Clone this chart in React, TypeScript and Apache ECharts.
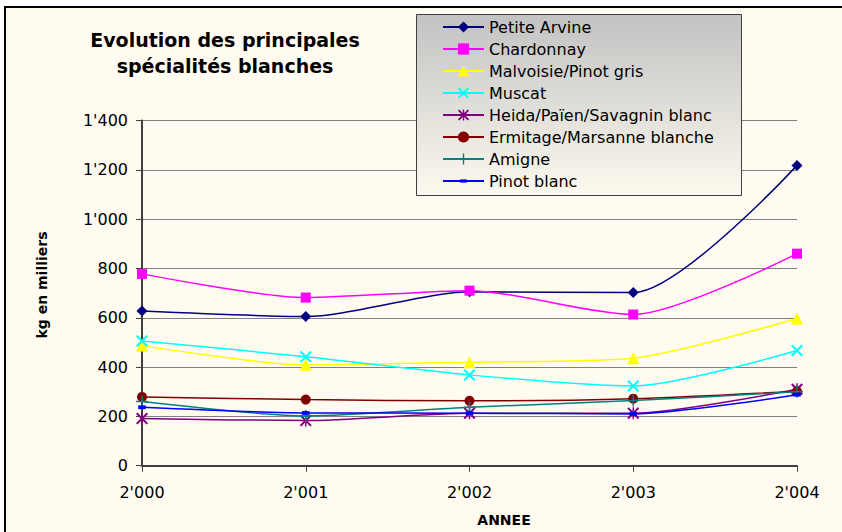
import React, { useEffect, useRef } from "react";
import * as echarts from "echarts";

const years = ["2'000", "2'001", "2'002", "2'003", "2'004"];
const petiteArvine = [627, 605, 705, 702, 1218];
const chardonnay = [778, 682, 710, 613, 860];
const malvoisie = [487, 409, 420, 436, 597];
const muscat = [506, 442, 368, 323, 467];
const heida = [191, 183, 213, 213, 310];
const ermitage = [279, 268, 263, 272, 302];
const amigne = [260, 202, 237, 264, 300];
const pinotBlanc = [237, 214, 213, 210, 288];
const seriesNames = [
  "Petite Arvine",
  "Chardonnay",
  "Malvoisie/Pinot gris",
  "Muscat",
  "Heida/Païen/Savagnin blanc",
  "Ermitage/Marsanne blanche",
  "Amigne",
  "Pinot blanc",
];
const yTicks = [0, 200, 400, 600, 800, 1000, 1200, 1400];

const X_PATH = "path://M0,1.2L1.2,0L5,3.8L8.8,0L10,1.2L6.2,5L10,8.8L8.8,10L5,6.2L1.2,10L0,8.8L3.8,5Z";
const STAR_PATH =
  "path://M0,1.2L1.2,0L5,3.8L8.8,0L10,1.2L6.2,5L10,8.8L8.8,10L5,6.2L1.2,10L0,8.8L3.8,5ZM4.4,0H5.6V10H4.4Z";
const PLUS_PATH = "path://M4.4,0H5.6V4.4H10V5.6H5.6V10H4.4V5.6H0V4.4H4.4Z";
const DASH_PATH = "path://M0,0M12,12M2.5,4.25H9.5V7.75H2.5Z";

const FONT = "DejaVu Sans";

function fmt(v: number): string {
  if (v >= 1000) {
    const s = String(v);
    return s.slice(0, s.length - 3) + "'" + s.slice(s.length - 3);
  }
  return String(v);
}

export default function App() {
  const ref = useRef<HTMLDivElement>(null);
  useEffect(() => {
    if (!ref.current) return;
    const chart = echarts.init(ref.current, undefined, { renderer: "svg" });
    const values = [petiteArvine, chardonnay, malvoisie, muscat, heida, ermitage, amigne, pinotBlanc];
    const colors = ["#000080", "#ff00ff", "#ffff00", "#00ffff", "#800080", "#800000", "#008080", "#0000ff"];
    const symbols = ["diamond", "rect", "triangle", X_PATH, STAR_PATH, "circle", PLUS_PATH, DASH_PATH];
    const sizes: any[] = [11, 10, 12, 12, 12, 10, 12, 13];
    const series = values.map((d, i) => ({
      type: "line",
      name: seriesNames[i],
      data: d,
      smooth: 0.25,
      symbol: symbols[i],
      symbolSize: sizes[i],
      symbolKeepAspect: true,
      showAllSymbol: true,
      lineStyle: { color: colors[i], width: 1.5 },
      itemStyle: { color: colors[i] },
      z: 2 + i * 0.01,
    }));
    chart.setOption({
      animation: false,
      backgroundColor: "#ffffff",
      textStyle: { fontFamily: FONT },
      graphic: [
        {
          type: "rect",
          z: 0,
          shape: { x: 5, y: 7, width: 900, height: 600 },
          style: { fill: "#fffbf0", stroke: "#000000", lineWidth: 2 },
        },
        {
          type: "text",
          z: 1,
          x: 225,
          y: 53,
          style: {
            text: "Evolution des principales\nspécialités blanches",
            font: `bold 19px '${FONT}'`,
            lineHeight: 26,
            fill: "#000000",
            align: "center",
            verticalAlign: "middle",
          },
        },
        {
          type: "text",
          z: 1,
          x: 42,
          y: 285,
          rotation: Math.PI / 2,
          style: {
            text: "kg en milliers",
            font: `bold 14px '${FONT}'`,
            fill: "#000000",
            align: "center",
            verticalAlign: "middle",
          },
        },
        {
          type: "text",
          z: 1,
          x: 504,
          y: 520,
          style: {
            text: "ANNEE",
            font: `bold 14px '${FONT}'`,
            fill: "#000000",
            align: "center",
            verticalAlign: "middle",
          },
        },
        {
          type: "rect",
          z: 5,
          shape: { x: 416.5, y: 14.5, width: 325, height: 181 },
          style: {
            fill: new echarts.graphic.LinearGradient(0, 0, 0, 1, [
              { offset: 0, color: "#c2c2c2" },
              { offset: 1, color: "#fdf9ee" },
            ]),
            stroke: "#404040",
            lineWidth: 1,
          },
        },
      ],
      legend: {
        z: 6,
        orient: "vertical",
        left: 442,
        top: 19,
        padding: 0,
        itemWidth: 41,
        itemHeight: 14,
        itemGap: 6,
        data: seriesNames,
        textStyle: { fontFamily: FONT, fontSize: 16, color: "#000000" },
        selectedMode: false,
      },
      grid: {
        left: 142,
        top: 120.5,
        right: 45,
        bottom: 66.3,
        show: true,
        backgroundColor: "#c0c0c0",
        borderColor: "#808080",
        borderWidth: 1,
        containLabel: false,
        outerBoundsMode: "none",
      },
      xAxis: {
        type: "category",
        data: years,
        boundaryGap: false,
        axisLine: { lineStyle: { color: "#404040", width: 2 } },
        axisTick: { show: true, length: 6, alignWithLabel: true, lineStyle: { color: "#404040" } },
        axisLabel: { fontFamily: FONT, fontSize: 16, color: "#000000", margin: 19 },
        splitLine: { show: false },
      },
      yAxis: {
        type: "value",
        min: yTicks[0],
        max: yTicks[yTicks.length - 1],
        interval: 200,
        axisLine: { show: true, lineStyle: { color: "#404040", width: 2 } },
        axisTick: { show: true, length: 6, lineStyle: { color: "#404040" } },
        axisLabel: {
          fontFamily: FONT,
          fontSize: 16,
          color: "#000000",
          margin: 14,
          formatter: (v: number) => fmt(v),
        },
        splitLine: { show: true, lineStyle: { color: "#808080", width: 1 } },
      },
      series,
    });
    return () => chart.dispose();
  }, []);
  return (
    <div
      ref={ref}
      style={{ position: "fixed", left: 0, top: 0, width: 842, height: 532 }}
    />
  );
}
